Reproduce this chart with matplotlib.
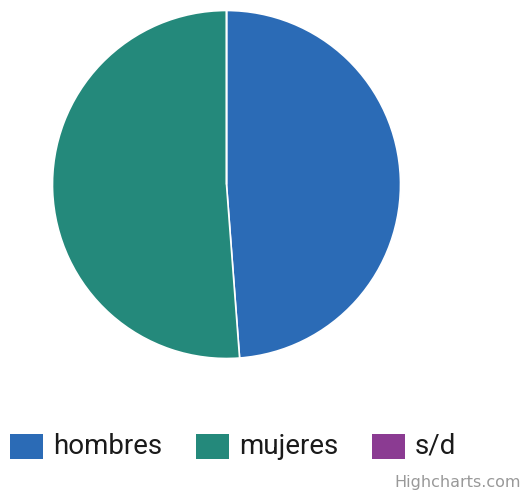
import matplotlib
matplotlib.use('Agg')
import matplotlib.pyplot as plt
from matplotlib.patches import Rectangle

labels = ['hombres', 'mujeres', 's/d']
values = [48.8, 51.2, 0.0]
colors = ['#2b6bb6', '#24897b', '#8b3b92']

W, H = 528, 491
fig = plt.figure(figsize=(W / 100, H / 100), dpi=100)
fig.set_facecolor('white')

# pie area, center ~ (226.5, 184.5) px, radius ~174 px
cx, cy, r = 226.5, 184.5, 174
ax = fig.add_axes([(cx - r) / W, (H - cy - r) / H, 2 * r / W, 2 * r / H])
ax.pie(values, colors=colors, startangle=90, counterclock=False,
       wedgeprops={'edgecolor': 'white', 'linewidth': 1.2})
ax.set_aspect('equal')
ax.set_xlim(-1, 1)
ax.set_ylim(-1, 1)
ax.axis('off')

# legend drawn by hand, Highcharts style
font = ['Roboto', 'DejaVu Sans']
box_x = [10, 196, 372]
for lab, col, bx in zip(labels, colors, box_x):
    fig.patches.append(Rectangle((bx / W, (H - 458.5) / H), 33 / W, 24.5 / H,
                                 transform=fig.transFigure, facecolor=col,
                                 edgecolor='none'))
    fig.text((bx + 43) / W, (H - 446) / H, lab, fontsize=20, family=font,
             color='#1a1a1a', va='center', ha='left')

fig.text(521 / W, (H - 482) / H, 'Highcharts.com', fontsize=11.5,
         color='#999999', ha='right', va='center', family=['DejaVu Sans'])

fig.savefig('out.png', dpi=100, facecolor=fig.get_facecolor())
